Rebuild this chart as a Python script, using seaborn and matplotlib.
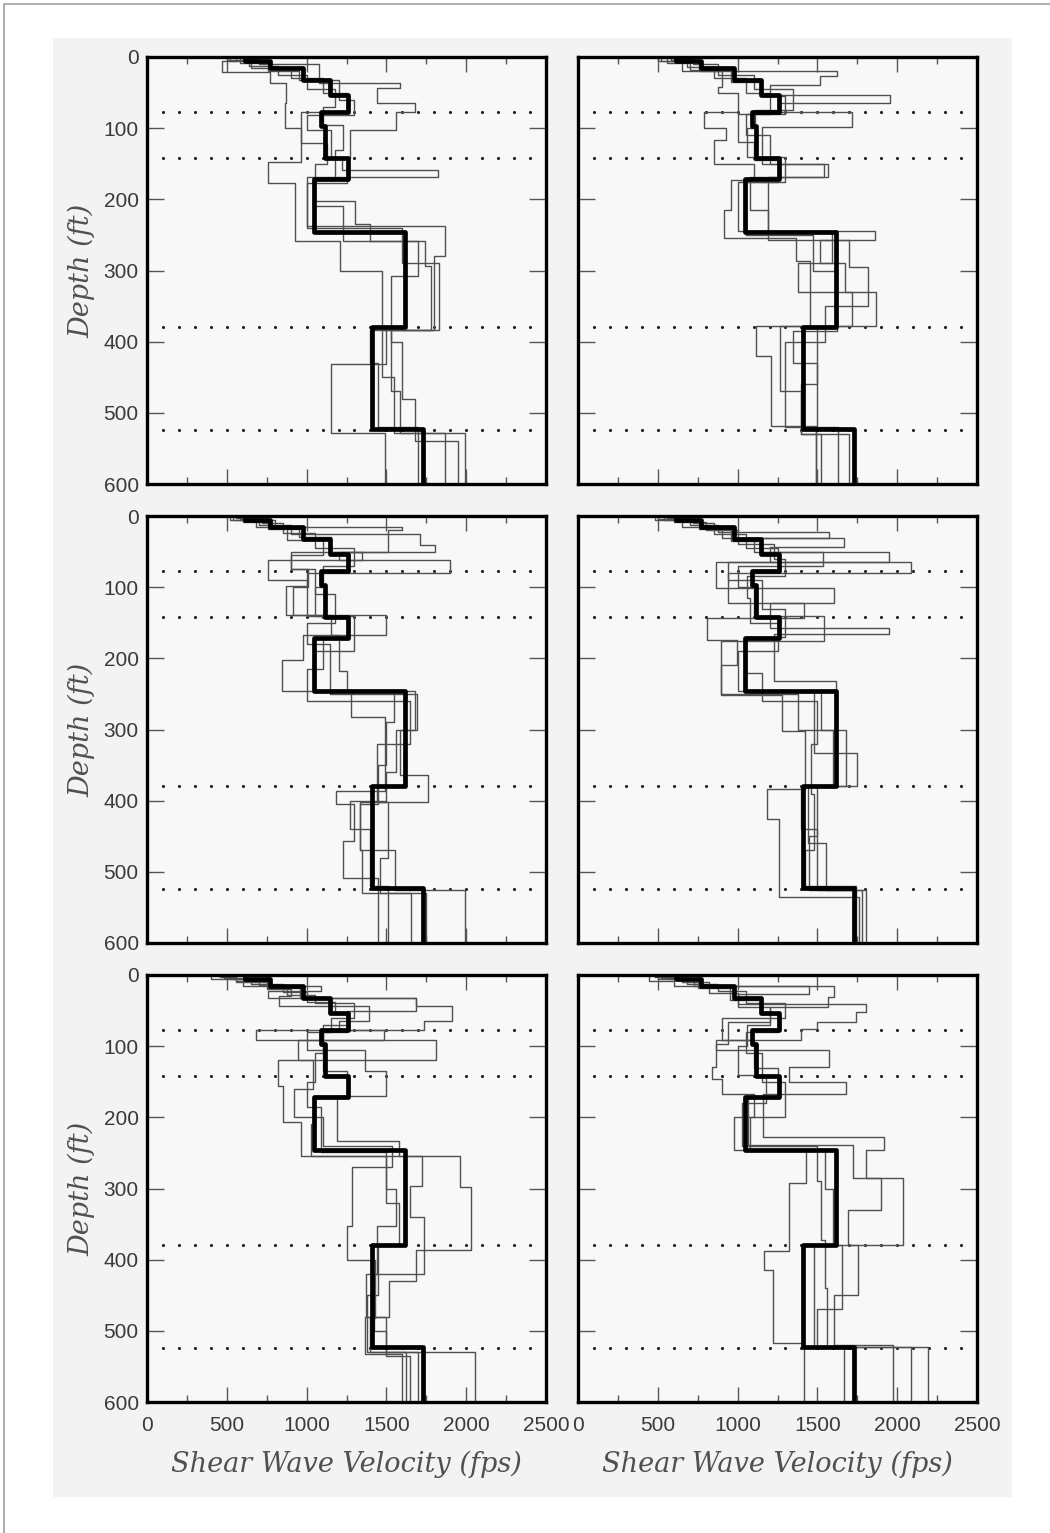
import numpy as np
import pandas as pd
import seaborn as sns
import matplotlib.pyplot as plt
from matplotlib.patches import Rectangle
from matplotlib.lines import Line2D
from matplotlib.ticker import MultipleLocator

# Baseline (thick) profile, same in every panel: layer tops (ft) and Vs (fps)
base_tops = [0, 5, 16, 32, 53, 77, 97, 142, 172, 246, 379, 523]
base_vs = [612, 769, 978, 1145, 1260, 1093, 1114, 1260, 1045, 1616, 1407, 1731]

# Depths of the dotted reference lines
dot_depths = [77, 142, 379, 524]
dot_vs = list(range(100, 2500, 100))

# Randomized profiles, one list of layer tops / velocities per realisation
p1_tops = [[0, 5, 21, 37, 65, 100, 147, 177, 259, 300, 380, 432, 528],
           [0, 3, 10, 37, 44, 65, 77, 103, 142, 159, 168, 238, 280, 383, 470, 528],
           [0, 6, 15, 30, 50, 77, 121, 150, 203, 234, 259, 308, 400, 480, 540],
           [0, 8, 20, 33, 60, 82, 103, 142, 177, 240, 290, 383, 450, 528],
           [0, 4, 12, 25, 45, 70, 95, 130, 170, 210, 259, 294, 383, 430, 520]]
p1_vs = [[560, 472, 770, 874, 863, 968, 759, 926, 1208, 1470, 1500, 1156, 1490],
         [600, 700, 1080, 1584, 1438, 1678, 1563, 1270, 1220, 1825, 1000, 1866, 1800, 1530, 1584, 1866],
         [520, 650, 900, 1100, 1250, 968, 1130, 1050, 1302, 1400, 1700, 1530, 1600, 1678, 1950],
         [580, 760, 950, 1200, 1300, 1000, 1150, 1250, 1000, 1600, 1830, 1470, 1550, 1992],
         [500, 640, 820, 1000, 1180, 1100, 1230, 1180, 1040, 1230, 1740, 1780, 1400, 1450, 1700]]

p2_tops = [[0, 5, 20, 42, 51, 77, 100, 117, 150, 173, 215, 254, 287, 378, 420, 518],
           [0, 4, 19, 26, 40, 54, 65, 77, 98, 150, 168, 245, 257, 290, 330, 378, 470, 530],
           [0, 8, 18, 35, 55, 80, 110, 150, 168, 215, 257, 295, 350, 400, 520],
           [0, 6, 14, 30, 50, 80, 120, 145, 175, 245, 290, 330, 378, 460, 530],
           [0, 3, 10, 25, 45, 75, 100, 140, 175, 250, 300, 385, 430, 525]]
p2_vs = [[520, 650, 900, 876, 1000, 792, 928, 855, 1100, 960, 913, 1368, 1452, 1117, 1211, 1494],
         [580, 760, 1620, 1515, 1200, 1955, 1250, 1714, 1150, 1567, 1190, 1860, 1515, 1670, 1870, 1263, 1400, 1525],
         [560, 700, 960, 1150, 1300, 1050, 1200, 1540, 1080, 1190, 1700, 1818, 1550, 1300, 1630],
         [500, 680, 850, 1050, 1200, 1000, 1100, 1250, 1000, 1590, 1380, 1714, 1500, 1400, 1700],
         [600, 720, 880, 1100, 1350, 1110, 1060, 1300, 1050, 1470, 1620, 1350, 1500, 1494]]

p3_tops = [[0, 5, 15, 20, 50, 62, 80, 99, 139, 167, 202, 246, 283, 387, 405, 456, 508],
           [0, 4, 12, 25, 41, 50, 75, 100, 139, 167, 218, 246, 300, 364, 402, 470, 525],
           [0, 8, 18, 30, 50, 62, 90, 140, 170, 215, 260, 320, 402, 480, 530],
           [0, 6, 16, 34, 55, 75, 110, 150, 180, 250, 300, 360, 400, 440, 520],
           [0, 3, 10, 24, 45, 70, 100, 140, 190, 246, 290, 350, 405, 470, 530]]
p3_vs = [[540, 800, 1595, 1511, 1200, 1898, 1000, 870, 1500, 980, 843, 1281, 1490, 1187, 1300, 1229, 1448],
         [580, 700, 900, 1710, 1804, 900, 1010, 917, 1150, 1200, 1250, 1680, 1584, 1762, 1334, 1553, 1992],
         [600, 760, 950, 1150, 1344, 759, 1000, 1250, 1100, 1000, 1650, 1438, 1511, 1459, 1657],
         [520, 680, 880, 1100, 905, 1050, 1180, 1000, 1145, 1690, 1560, 1500, 1270, 1400, 1511],
         [560, 720, 850, 1050, 1300, 1100, 1050, 1300, 1050, 1550, 1500, 1450, 1334, 1350, 1751]]

p4_tops = [[0, 5, 15, 31, 43, 64, 80, 122, 143, 174, 210, 251, 302, 384, 426, 536],
           [0, 4, 12, 22, 31, 50, 64, 101, 122, 157, 166, 232, 246, 333, 380, 450, 525],
           [0, 6, 18, 35, 50, 70, 100, 140, 175, 250, 300, 380, 460, 525],
           [0, 3, 10, 25, 45, 65, 90, 130, 170, 220, 260, 320, 390, 470, 520],
           [0, 8, 20, 40, 60, 85, 115, 150, 190, 246, 300, 380, 440, 525]]
p4_vs = [[480, 650, 900, 1668, 1200, 2086, 937, 1417, 811, 999, 895, 1281, 1420, 1187, 1262, 1760],
         [500, 700, 880, 1574, 1100, 1950, 863, 1605, 1200, 1950, 1229, 1616, 1480, 1751, 1500, 1450, 1804],
         [540, 760, 960, 1150, 1532, 1000, 1100, 1543, 895, 1380, 1680, 1438, 1553, 1780],
         [560, 720, 850, 1050, 1250, 937, 1150, 1300, 1050, 1150, 1500, 1460, 1480, 1420, 1740],
         [600, 800, 1000, 1230, 1300, 1060, 1080, 1250, 1000, 1520, 1600, 1400, 1500, 1720]]

p5_tops = [[0, 5, 16, 23, 33, 44, 65, 77, 91, 119, 156, 207, 254, 298, 387, 430, 480, 533],
           [0, 3, 10, 20, 30, 44, 65, 77, 91, 119, 160, 200, 240, 270, 352, 400, 482, 530],
           [0, 6, 14, 28, 40, 60, 80, 105, 135, 170, 233, 254, 296, 340, 420, 480, 535],
           [0, 4, 12, 24, 38, 55, 80, 110, 150, 185, 249, 300, 352, 420, 500, 530],
           [0, 8, 18, 33, 50, 70, 100, 135, 170, 210, 254, 320, 380, 450, 530]]
p5_vs = [[400, 600, 1090, 756, 1683, 1912, 1735, 683, 1808, 818, 850, 964, 1964, 2027, 1683, 1516, 1364, 1600],
         [455, 560, 750, 900, 829, 1391, 1200, 1485, 944, 1037, 923, 1100, 1537, 1287, 1256, 1430, 1400, 1620],
         [520, 700, 880, 1050, 1300, 1150, 1000, 1364, 1500, 1193, 1579, 1724, 1650, 1735, 1370, 1500, 1650],
         [480, 650, 850, 1000, 1180, 1250, 1100, 1050, 1000, 1090, 1500, 1560, 1440, 1420, 1500, 2058],
         [560, 760, 960, 1683, 1250, 1100, 1100, 1250, 1050, 1030, 1500, 1580, 1450, 1380, 1700]]

p6_tops = [[0, 8, 15, 27, 41, 52, 66, 76, 92, 129, 146, 167, 200, 246, 292, 388, 414, 517],
           [0, 5, 15, 31, 45, 66, 97, 106, 129, 151, 167, 227, 246, 285, 379, 420, 523],
           [0, 4, 12, 22, 40, 60, 92, 130, 170, 239, 285, 330, 379, 450, 520],
           [0, 6, 18, 35, 55, 80, 110, 150, 200, 246, 300, 380, 470, 523],
           [0, 3, 10, 25, 45, 70, 100, 140, 180, 240, 290, 372, 440, 523]]
p6_vs = [[445, 600, 1448, 1000, 1804, 1741, 1500, 1396, 863, 842, 905, 1100, 980, 1428, 1324, 1166, 1219, 1417],
         [500, 727, 1605, 1565, 1200, 937, 863, 1574, 1324, 1680, 1157, 1919, 1804, 2035, 1480, 1480, 2190],
         [520, 680, 880, 1050, 1300, 905, 1100, 1250, 1063, 1720, 1898, 1689, 1752, 1605, 1971],
         [560, 750, 950, 1150, 1250, 1050, 1150, 1300, 1080, 1550, 1600, 1657, 1500, 1668],
         [480, 650, 820, 1000, 1200, 1060, 1000, 1180, 1030, 1500, 1524, 1550, 1560, 2086]]

MAX_DEPTH = 600


def step_frame(tops, vs, pid):
    # turn layer tops / velocities into a vertical staircase
    bots = list(tops[1:]) + [MAX_DEPTH]
    rows = []
    for t, b, v in zip(tops, bots, vs):
        rows.append((pid, v, t))
        rows.append((pid, v, b))
    return pd.DataFrame(rows, columns=['pid', 'v', 'depth'])


def main():
    sns.set_theme(style='white')
    plt.rcParams['font.family'] = ['Liberation Sans', 'DejaVu Sans']

    W, H = 1050, 1533
    fig = plt.figure(figsize=(W / 100, H / 100), dpi=100)
    fig.patch.set_facecolor('white')

    # scanned page area and page border
    fig.patches.append(Rectangle((53 / W, 1 - 1497 / H), (1012 - 53) / W, (1497 - 38) / H,
                                 transform=fig.transFigure, facecolor='#f3f3f3',
                                 edgecolor='none', zorder=-10))
    fig.lines.append(Line2D([4 / W, 4 / W], [0, 1 - 4 / H], transform=fig.transFigure,
                            color='#b0b0b0', lw=1.5))
    fig.lines.append(Line2D([4 / W, 1], [1 - 4 / H, 1 - 4 / H], transform=fig.transFigure,
                            color='#b0b0b0', lw=1.5))

    panels_tops = [p1_tops, p2_tops, p3_tops, p4_tops, p5_tops, p6_tops]
    panels_vs = [p1_vs, p2_vs, p3_vs, p4_vs, p5_vs, p6_vs]

    col_left = [147, 578]
    row_top = [57, 516, 975]
    pw, ph = 399, 427

    base_df = step_frame(base_tops, base_vs, 0)
    dots = pd.DataFrame({'v': np.tile(dot_vs, len(dot_depths)),
                         'depth': np.repeat(dot_depths, len(dot_vs))})

    label_font = dict(fontsize=19.5, fontstyle='italic', family='DejaVu Serif',
                      color='#505050')

    for i in range(6):
        r, c = divmod(i, 2)
        ax = fig.add_axes([col_left[c] / W, 1 - (row_top[r] + ph) / H, pw / W, ph / H])
        ax.set_facecolor('#f8f8f8')

        thin = pd.concat([step_frame(t, v, k) for k, (t, v) in
                          enumerate(zip(panels_tops[i], panels_vs[i]))], ignore_index=True)
        sns.lineplot(data=thin, x='v', y='depth', units='pid', estimator=None, sort=False,
                     color='#505050', lw=1.0, ax=ax, legend=False)
        sns.lineplot(data=base_df, x='v', y='depth', estimator=None, sort=False,
                     color='black', lw=3.4, ax=ax, legend=False)
        sns.scatterplot(data=dots, x='v', y='depth', s=5, color='#222222',
                        linewidth=0, ax=ax, legend=False)

        ax.set_xlim(0, 2500)
        ax.set_ylim(MAX_DEPTH, 0)
        ax.xaxis.set_major_locator(MultipleLocator(500))
        ax.xaxis.set_minor_locator(MultipleLocator(250))
        ax.yaxis.set_major_locator(MultipleLocator(100))
        ax.tick_params(which='both', direction='in', top=True, right=True, bottom=True,
                       left=True, color='#555555', width=1.0, labelsize=15,
                       labelcolor='#3a3a3a')
        ax.tick_params(axis='x', which='major', length=11, pad=10)
        ax.tick_params(axis='x', which='minor', length=5)
        ax.tick_params(axis='y', which='major', length=12, pad=6)
        for sp in ax.spines.values():
            sp.set_linewidth(2.4)
            sp.set_color('black')

        if c == 0:
            ax.set_ylabel('Depth (ft)', labelpad=6, **label_font)
        else:
            ax.set_ylabel('')
            ax.tick_params(axis='y', labelleft=False)
        if r == 2:
            ax.set_xlabel('Shear Wave Velocity (fps)', labelpad=11, **label_font)
        else:
            ax.set_xlabel('')
            ax.tick_params(axis='x', labelbottom=False)

    fig.savefig('out.png', dpi=100)
    plt.close(fig)


if __name__ == '__main__':
    main()
